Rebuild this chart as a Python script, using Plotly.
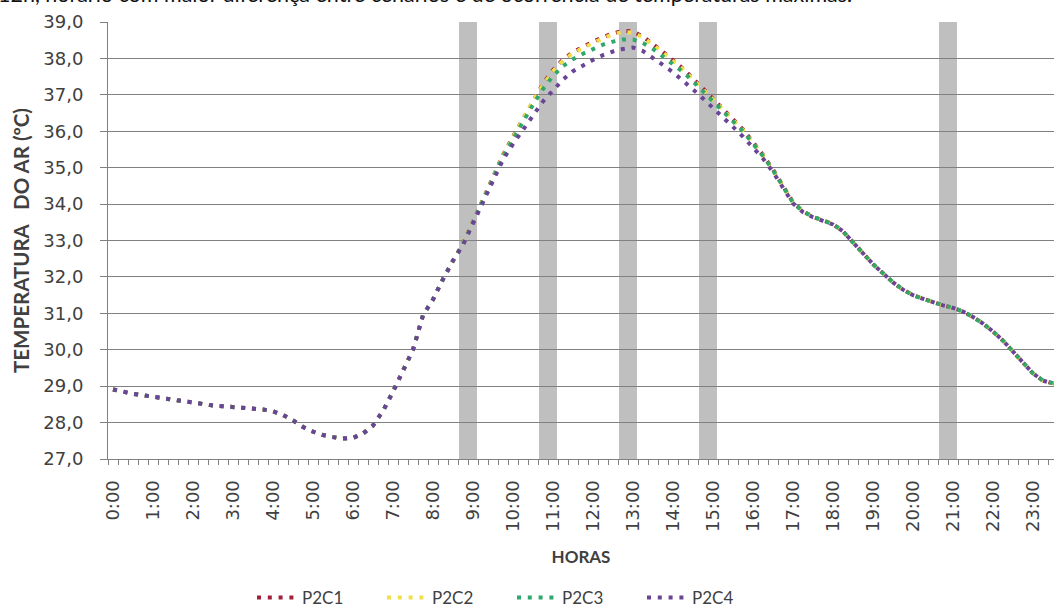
import plotly.graph_objects as go

# 15-minute time categories (0:00 ... 23:45)
horas = [f"{h}:{m:02d}" for h in range(24) for m in (0, 15, 30, 45)]

# Air temperature (ºC) per scenario
p2c1 = [28.91, 28.84, 28.79, 28.75, 28.71, 28.65, 28.61, 28.57, 28.53, 28.50, 28.47, 28.45,
        28.43, 28.41, 28.39, 28.36, 28.31, 28.21, 28.06, 27.88, 27.75, 27.66, 27.60, 27.56,
        27.58, 27.70, 27.92, 28.32, 28.85, 29.40, 30.00, 30.95, 31.38, 31.94, 32.45, 32.92,
        33.52, 34.12, 34.72, 35.35, 35.85, 36.35, 36.85, 37.30, 37.68, 37.97, 38.17, 38.32,
        38.46, 38.58, 38.69, 38.76, 38.74, 38.60, 38.40, 38.18, 37.95, 37.72, 37.45, 37.17,
        36.90, 36.62, 36.35, 36.05, 35.70, 35.35, 34.95, 34.50, 34.05, 33.80, 33.65, 33.55,
        33.45, 33.25, 32.95, 32.65, 32.35, 32.10, 31.85, 31.65, 31.50, 31.40, 31.30, 31.22,
        31.15, 31.05, 30.90, 30.72, 30.50, 30.25, 29.95, 29.65, 29.35, 29.15, 29.08, 29.05]
p2c2 = [28.91, 28.84, 28.79, 28.75, 28.71, 28.65, 28.61, 28.57, 28.53, 28.50, 28.47, 28.45,
        28.43, 28.41, 28.39, 28.36, 28.31, 28.21, 28.06, 27.88, 27.75, 27.66, 27.60, 27.56,
        27.58, 27.70, 27.92, 28.32, 28.85, 29.40, 30.00, 30.95, 31.38, 31.94, 32.45, 32.92,
        33.51, 34.10, 34.70, 35.33, 35.83, 36.33, 36.83, 37.27, 37.65, 37.94, 38.14, 38.29,
        38.43, 38.55, 38.66, 38.73, 38.71, 38.57, 38.38, 38.16, 37.93, 37.70, 37.43, 37.15,
        36.88, 36.60, 36.33, 36.03, 35.68, 35.34, 34.94, 34.50, 34.05, 33.80, 33.65, 33.55,
        33.45, 33.25, 32.95, 32.65, 32.35, 32.10, 31.85, 31.65, 31.50, 31.40, 31.30, 31.22,
        31.15, 31.05, 30.90, 30.72, 30.50, 30.25, 29.95, 29.65, 29.35, 29.15, 29.08, 29.05]
p2c3 = [28.91, 28.84, 28.79, 28.75, 28.71, 28.65, 28.61, 28.57, 28.53, 28.50, 28.47, 28.45,
        28.43, 28.41, 28.39, 28.36, 28.31, 28.21, 28.06, 27.88, 27.75, 27.66, 27.60, 27.56,
        27.58, 27.70, 27.92, 28.32, 28.85, 29.40, 30.00, 30.95, 31.38, 31.94, 32.45, 32.90,
        33.50, 34.08, 34.67, 35.30, 35.78, 36.26, 36.73, 37.16, 37.52, 37.79, 37.98, 38.13,
        38.27, 38.38, 38.46, 38.52, 38.52, 38.42, 38.26, 38.06, 37.85, 37.63, 37.37, 37.10,
        36.84, 36.57, 36.30, 36.00, 35.66, 35.32, 34.93, 34.49, 34.04, 33.80, 33.65, 33.55,
        33.45, 33.25, 32.95, 32.65, 32.35, 32.10, 31.85, 31.65, 31.50, 31.40, 31.30, 31.22,
        31.15, 31.05, 30.90, 30.72, 30.50, 30.25, 29.95, 29.65, 29.35, 29.15, 29.08, 29.05]
p2c4 = [28.91, 28.84, 28.79, 28.75, 28.71, 28.65, 28.61, 28.57, 28.53, 28.50, 28.47, 28.45,
        28.43, 28.41, 28.39, 28.36, 28.31, 28.21, 28.06, 27.88, 27.75, 27.66, 27.60, 27.56,
        27.58, 27.70, 27.92, 28.32, 28.85, 29.40, 30.00, 30.95, 31.38, 31.94, 32.45, 32.88,
        33.45, 34.02, 34.60, 35.22, 35.65, 36.05, 36.45, 36.82, 37.12, 37.42, 37.65, 37.82,
        37.96, 38.09, 38.19, 38.26, 38.30, 38.20, 38.02, 37.82, 37.62, 37.40, 37.15, 36.90,
        36.65, 36.40, 36.12, 35.85, 35.55, 35.25, 34.88, 34.46, 34.02, 33.78, 33.64, 33.54,
        33.44, 33.25, 32.95, 32.65, 32.35, 32.10, 31.85, 31.65, 31.50, 31.40, 31.30, 31.22,
        31.15, 31.05, 30.90, 30.72, 30.50, 30.25, 29.95, 29.65, 29.35, 29.15, 29.08, 29.05]

series = [("P2C1", p2c1, "#A3203C"),
          ("P2C2", p2c2, "#EFE04A"),
          ("P2C3", p2c3, "#2FA86C"),
          ("P2C4", p2c4, "#6A4496")]

# Highlighted hours (grey bands)
destaques = ["9:00", "11:00", "13:00", "15:00", "21:00"]

y_min, y_max = 27.0, 39.0
pos = list(range(len(horas)))

fig = go.Figure()

# grey bands, centred on the boundary just before each highlighted hour
fig.add_trace(go.Bar(
    x=[horas.index(h) - 0.5 for h in destaques],
    y=[y_max - y_min] * len(destaques),
    base=y_min,
    width=1.8,
    marker=dict(color="rgba(128,128,128,0.5)", line=dict(width=0)),
    showlegend=False,
    hoverinfo="skip",
))

for nome, valores, cor in series:
    fig.add_trace(go.Scatter(
        x=pos, y=valores, name=nome, mode="lines",
        line=dict(color=cor, width=4, dash="4px,6.8px"),
    ))

grid = "#808080"
fig.update_layout(
    width=1054, height=616,
    margin=dict(l=108, r=0, t=22, b=157),
    paper_bgcolor="white", plot_bgcolor="white",
    separators=",.",
    showlegend=True,
    legend=dict(orientation="h", x=(252 - 108) / 946, xanchor="left",
                y=-139 / 437, yanchor="middle",
                font=dict(family="Lato", size=17, color="#404040"),
                entrywidth=75, entrywidthmode="pixels",
                itemwidth=40, tracegroupgap=0),
    xaxis=dict(
        range=[-0.5, 94.1],
        tickmode="array",
        tickvals=pos[::4],
        ticktext=horas[::4],
        tickangle=-90,
        ticks="",
        ticklabelstandoff=13,
        tickfont=dict(family="DejaVu Sans", size=18, color="#404040"),
        showgrid=False, zeroline=False,
        showline=True, linecolor=grid, linewidth=1,
        minor=dict(tick0=-0.5, dtick=1, ticks="outside", ticklen=5,
                   tickcolor=grid, showgrid=False),
        title=dict(text="<b>HORAS</b>", font=dict(family="Lato", size=17, color="#404040"),
                   standoff=20),
    ),
    yaxis=dict(
        range=[y_min, y_max],
        dtick=1, tickformat=".1f",
        ticks="outside", ticklen=7, tickcolor=grid,
        ticklabelstandoff=13,
        tickfont=dict(family="DejaVu Sans", size=18, color="#404040"),
        showgrid=True, gridcolor=grid, gridwidth=1,
        zeroline=False,
        showline=True, linecolor=grid, linewidth=1,
        title=dict(text="<b>TEMPERATURA\u00a0\u00a0\u00a0DO AR (ºC)</b>",
                   font=dict(family="Lato", size=20.5, color="#404040"),
                   standoff=8),
    ),
    bargap=0,
)

fig.add_annotation(
    text="12h, horário com maior diferença entre cenários e de ocorrência de temperaturas máximas.",
    xref="paper", yref="paper",
    x=-112 / 946, y=1 + (22 - 9) / 437,
    xanchor="left", yanchor="bottom",
    showarrow=False,
    font=dict(family="Lato", size=21.5, color="#111111"),
)

fig.write_html("out.html")
